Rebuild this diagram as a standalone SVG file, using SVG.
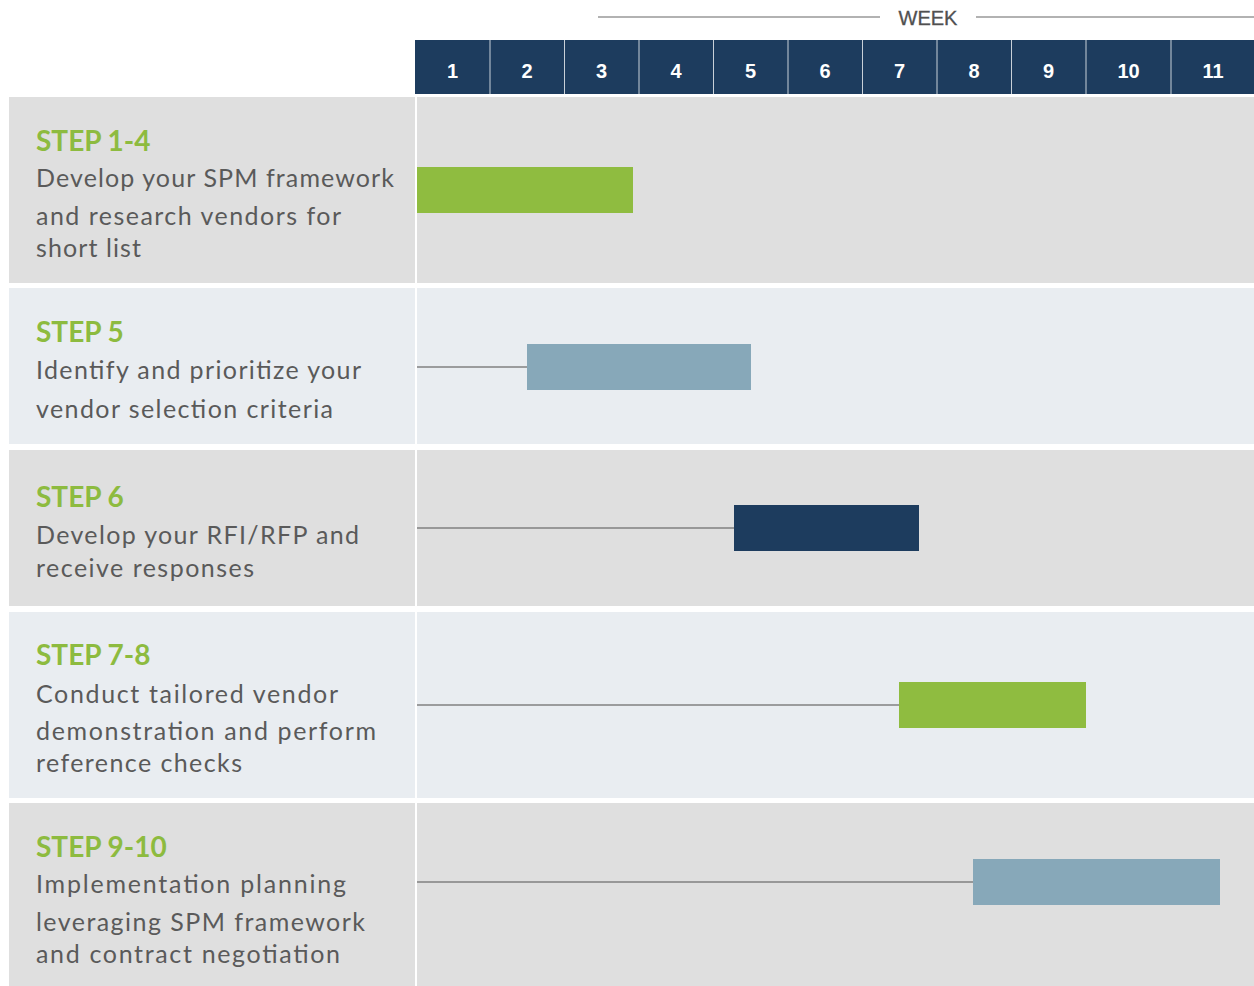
<svg xmlns="http://www.w3.org/2000/svg" width="1254" height="986" viewBox="0 0 1254 986">
  <style>
    .band-a { fill: #dfdfdf; }
    .band-b { fill: #e9edf1; }
    .step { font-family: Lato, "Noto Sans", sans-serif; font-weight: 700; font-size: 28px; fill: #8dbb3f; }
    .desc { font-family: Lato, "Noto Sans", sans-serif; font-weight: 400; font-size: 25px; fill: #5a5a5a; }
    .wk { font-family: "Liberation Sans", Arial, sans-serif; font-weight: 700; font-size: 20px; fill: #ffffff; text-anchor: middle; }
    .week { font-family: "Liberation Sans", Arial, sans-serif; font-size: 20px; fill: #505050; text-anchor: middle; stroke: #505050; stroke-width: 0.3; }
    .lead { stroke: #808080; stroke-width: 1.5; }
    .green { fill: #8fbc40; }
    .slate { fill: #87a8b9; }
    .navy { fill: #1d3c5e; }
  </style>

  <rect width="1254" height="986" fill="#ffffff"/>

  <!-- week axis title -->
  <g id="week-title">
    <line x1="598" y1="17" x2="880" y2="17" stroke="#666666" stroke-width="1.2"/>
    <line x1="976" y1="17" x2="1254" y2="17" stroke="#666666" stroke-width="1.2"/>
    <text class="week" x="928" y="25">WEEK</text>
  </g>

  <!-- week header cells -->
  <g id="week-header">
    <rect x="415" y="40" width="839" height="54" fill="#1d3c5e"/>
    <g stroke="#c8d0d8" stroke-width="1">
      <line x1="490" y1="40" x2="490" y2="94"/>
      <line x1="564.5" y1="40" x2="564.5" y2="94"/>
      <line x1="639" y1="40" x2="639" y2="94"/>
      <line x1="713.5" y1="40" x2="713.5" y2="94"/>
      <line x1="788" y1="40" x2="788" y2="94"/>
      <line x1="862.5" y1="40" x2="862.5" y2="94"/>
      <line x1="937" y1="40" x2="937" y2="94"/>
      <line x1="1011.5" y1="40" x2="1011.5" y2="94"/>
      <line x1="1086" y1="40" x2="1086" y2="94"/>
      <line x1="1171" y1="40" x2="1171" y2="94"/>
    </g>
    <text class="wk" x="452.5" y="78">1</text>
    <text class="wk" x="527" y="78">2</text>
    <text class="wk" x="601.5" y="78">3</text>
    <text class="wk" x="676" y="78">4</text>
    <text class="wk" x="750.5" y="78">5</text>
    <text class="wk" x="825" y="78">6</text>
    <text class="wk" x="899.5" y="78">7</text>
    <text class="wk" x="974" y="78">8</text>
    <text class="wk" x="1048.5" y="78">9</text>
    <text class="wk" x="1128.5" y="78">10</text>
    <text class="wk" x="1213" y="78">11</text>
  </g>

  <!-- row bands: label cell + chart cell, split by a thin white gap -->
  <g id="row-1">
    <rect class="band-a" x="9" y="97" width="406" height="186"/>
    <rect class="band-a" x="417" y="97" width="837" height="186"/>
    <text class="step" x="36" y="151">STEP 1-4</text>
    <text class="desc" x="36" y="187" textLength="358" lengthAdjust="spacing">Develop your SPM framework</text>
    <text class="desc" x="36" y="225" textLength="305" lengthAdjust="spacing">and research vendors for</text>
    <text class="desc" x="36" y="257" textLength="105" lengthAdjust="spacing">short list</text>
  </g>
  <g id="row-2">
    <rect class="band-b" x="9" y="288" width="406" height="156"/>
    <rect class="band-b" x="417" y="288" width="837" height="156"/>
    <text class="step" x="36" y="342">STEP 5</text>
    <text class="desc" x="36" y="379" textLength="325" lengthAdjust="spacing">Identify and prioritize your</text>
    <text class="desc" x="36" y="418" textLength="297" lengthAdjust="spacing">vendor selection criteria</text>
  </g>
  <g id="row-3">
    <rect class="band-a" x="9" y="450" width="406" height="156"/>
    <rect class="band-a" x="417" y="450" width="837" height="156"/>
    <text class="step" x="36" y="507">STEP 6</text>
    <text class="desc" x="36" y="544" textLength="323" lengthAdjust="spacing">Develop your RFI/RFP and</text>
    <text class="desc" x="36" y="577" textLength="218" lengthAdjust="spacing">receive responses</text>
  </g>
  <g id="row-4">
    <rect class="band-b" x="9" y="612" width="406" height="186"/>
    <rect class="band-b" x="417" y="612" width="837" height="186"/>
    <text class="step" x="36" y="665">STEP 7-8</text>
    <text class="desc" x="36" y="703" textLength="302" lengthAdjust="spacing">Conduct tailored vendor</text>
    <text class="desc" x="36" y="740" textLength="340" lengthAdjust="spacing">demonstration and perform</text>
    <text class="desc" x="36" y="772" textLength="206" lengthAdjust="spacing">reference checks</text>
  </g>
  <g id="row-5">
    <rect class="band-a" x="9" y="803" width="406" height="183"/>
    <rect class="band-a" x="417" y="803" width="837" height="183"/>
    <text class="step" x="36" y="857">STEP 9-10</text>
    <text class="desc" x="36" y="893" textLength="310" lengthAdjust="spacing">Implementation planning</text>
    <text class="desc" x="36" y="931" textLength="329" lengthAdjust="spacing">leveraging SPM framework</text>
    <text class="desc" x="36" y="963" textLength="304" lengthAdjust="spacing">and contract negotiation</text>
  </g>

  <!-- lead-in lines from the chart edge to each task bar -->
  <g id="connectors">
    <line class="lead" x1="417" y1="367" x2="527" y2="367"/>
    <line class="lead" x1="417" y1="528" x2="734" y2="528"/>
    <line class="lead" x1="417" y1="705" x2="899" y2="705"/>
    <line class="lead" x1="417" y1="882" x2="973" y2="882"/>
  </g>

  <!-- task bars -->
  <g id="bar-1"><rect class="green" x="417" y="167" width="216" height="46"/></g>
  <g id="bar-2"><rect class="slate" x="527" y="344" width="224" height="46"/></g>
  <g id="bar-3"><rect class="navy" x="734" y="505" width="185" height="46"/></g>
  <g id="bar-4"><rect class="green" x="899" y="682" width="187" height="46"/></g>
  <g id="bar-5"><rect class="slate" x="973" y="859" width="247" height="46"/></g>
</svg>
